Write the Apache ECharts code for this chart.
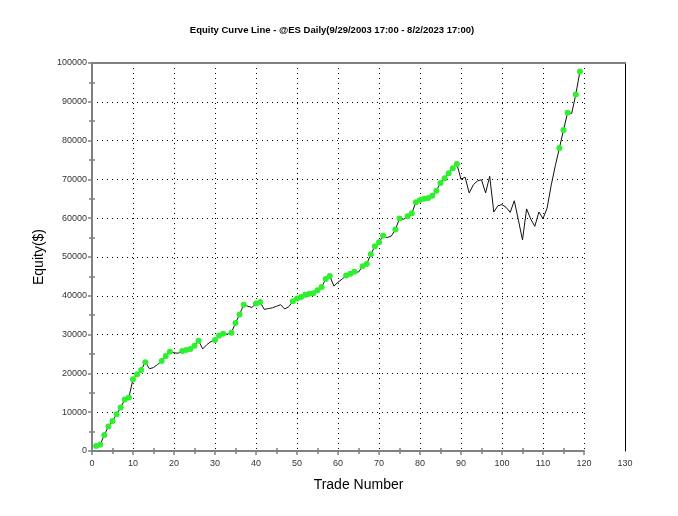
<!DOCTYPE html>
<html>
<head>
<meta charset="utf-8">
<script src="https://cdn.jsdelivr.net/npm/echarts@6/dist/echarts.min.js"></script>
<style>
html, body { margin: 0; padding: 0; background: #fff; }
#chart { width: 678px; height: 516px; }
</style>
</head>
<body>
<div id="chart"></div>
<script>
// equity after each trade (trade 1..119)
var equity = [
    1300, 1650, 4100, 6300, 7700, 9500, 11200, 13300, 13800, 18500,
    19800, 20900, 22900, 21200, 21500, 22300, 23200, 24500, 25600, 25300,
    25200, 25800, 26000, 26300, 27100, 28400, 26300, 27400, 28200, 28600,
    29800, 30200, 30100, 30500, 33000, 35200, 37700, 37300, 37000, 38000,
    38400, 36500, 36700, 36900, 37300, 37700, 36600, 37200, 38600, 39300,
    39700, 40300, 40500, 40650, 41400, 42300, 44300, 45100, 42500, 43500,
    44300, 45200, 45700, 46200, 46100, 47600, 48200, 50700, 52800, 53800,
    55500, 55000, 55400, 57100, 59900, 59700, 60500, 61300, 64100, 64700,
    65000, 65200, 65800, 67100, 69100, 70300, 71600, 72900, 74000, 70000,
    70600, 66500, 68600, 69600, 69900, 66500, 70800, 61600, 63200, 63500,
    62800, 61500, 64500, 59500, 54400, 62400, 59800, 57900, 61600, 59900,
    62600, 68500, 73500, 78100, 82700, 87200, 87000, 91900, 97800
];
var xTicks = [0, 10, 20, 30, 40, 50, 60, 70, 80, 90, 100, 110, 120, 130];
var yTicks = [0, 10000, 20000, 30000, 40000, 50000, 60000, 70000, 80000, 90000, 100000];

var chartTitle = 'Equity Curve Line - @ES Daily(9/29/2003 17:00 - 8/2/2023 17:00)';
var FONT = 'Liberation Sans, Arial, sans-serif';

// green dot on every new equity high
var lineData = [];
var peak = 0;
for (var i = 0; i < equity.length; i++) {
    var isHigh = equity[i] > peak;
    if (isHigh) peak = equity[i];
    lineData.push({
        value: [i + 1, equity[i]],
        symbol: isHigh ? 'circle' : 'none'
    });
}

var xMax = xTicks[xTicks.length - 1];
var yMax = yTicks[yTicks.length - 1];
var gray = '#808080';

var chart = echarts.init(document.getElementById('chart'), null, {renderer: 'canvas'});
chart.setOption({
    animation: false,
    title: {
        text: chartTitle,
        left: 327,
        textAlign: 'center',
        top: 20,
        textStyle: {fontFamily: FONT, fontSize: 9.5, fontWeight: 'bold', color: '#000'}
    },
    grid: [
        // plotting area, trades 0..120
        {left: 92, top: 63, width: 492, height: 388},
        // frame, out to 130
        {left: 92, top: 63, width: 533, height: 388}
    ],
    xAxis: [
        {
            gridIndex: 0, type: 'value', position: 'bottom',
            min: 0, max: 120, interval: 10,
            axisLine: {onZero: false, lineStyle: {color: gray, width: 2}},
            axisTick: {length: 4, lineStyle: {color: gray, width: 1.5}},
            minorTick: {show: true, splitNumber: 2, length: 3, lineStyle: {color: gray, width: 1.5}},
            axisLabel: {margin: 8, color: '#333', fontFamily: FONT, fontSize: 9},
            splitLine: {show: true, lineStyle: {color: '#000', width: 1, type: [1, 4]}}
        },
        {
            // other half of the crossing minor ticks
            gridIndex: 0, type: 'value', position: 'bottom',
            min: 0, max: 120, interval: 10,
            axisLine: {show: false, onZero: false},
            axisTick: {show: false, inside: true},
            minorTick: {show: true, splitNumber: 2, length: 3, lineStyle: {color: gray, width: 1.5}},
            axisLabel: {show: false},
            splitLine: {show: false}
        },
        {
            gridIndex: 1, type: 'value', position: 'bottom',
            min: 0, max: xMax, interval: 10,
            name: 'Trade Number',
            nameLocation: 'middle',
            nameGap: 27,
            nameTextStyle: {fontFamily: FONT, fontSize: 14, color: '#000'},
            axisLine: {show: false, onZero: false},
            axisTick: {show: false},
            axisLabel: {
                margin: 8, color: '#333', fontFamily: FONT, fontSize: 9,
                formatter: function (v) { return v === xMax ? String(v) : ''; }
            },
            splitLine: {show: false}
        },
        {
            gridIndex: 1, type: 'value', position: 'top',
            min: 0, max: xMax,
            axisLine: {onZero: false, lineStyle: {color: gray, width: 2}},
            axisTick: {show: false},
            axisLabel: {show: false},
            splitLine: {show: false}
        }
    ],
    yAxis: [
        {
            gridIndex: 0, type: 'value', position: 'left',
            min: 0, max: yMax, interval: 10000,
            name: 'Equity($)',
            nameLocation: 'middle',
            nameGap: 35,
            nameTextStyle: {fontFamily: FONT, fontSize: 14, color: '#000'},
            axisLine: {show: true, onZero: false, lineStyle: {color: gray, width: 2}},
            axisTick: {show: true, length: 4, lineStyle: {color: gray, width: 1.5}},
            minorTick: {show: true, splitNumber: 2, length: 3, lineStyle: {color: gray, width: 1.5}},
            axisLabel: {
                margin: 5, color: '#333', fontFamily: FONT, fontSize: 9,
                formatter: function (v) { return String(v); }
            },
            splitLine: {show: true, lineStyle: {color: '#000', width: 1, type: [1, 4]}}
        },
        {
            gridIndex: 0, type: 'value', position: 'left',
            min: 0, max: yMax, interval: 10000,
            axisLine: {show: false, onZero: false},
            axisTick: {show: false, inside: true},
            minorTick: {show: true, splitNumber: 2, length: 3, lineStyle: {color: gray, width: 1.5}},
            axisLabel: {show: false},
            splitLine: {show: false}
        },
        {
            gridIndex: 1, type: 'value', position: 'right',
            min: 0, max: yMax,
            axisLine: {show: true, onZero: false, lineStyle: {color: '#000', width: 1}},
            axisTick: {show: false},
            axisLabel: {show: false},
            splitLine: {show: false}
        }
    ],
    series: [
        {
            name: 'Equity',
            type: 'line',
            xAxisIndex: 0,
            yAxisIndex: 0,
            data: lineData,
            symbolSize: 6,
            showAllSymbol: true,
            lineStyle: {color: '#111', width: 1},
            itemStyle: {color: '#2ef02e', borderWidth: 0},
            z: 3
        }
    ]
});
</script>
</body>
</html>
